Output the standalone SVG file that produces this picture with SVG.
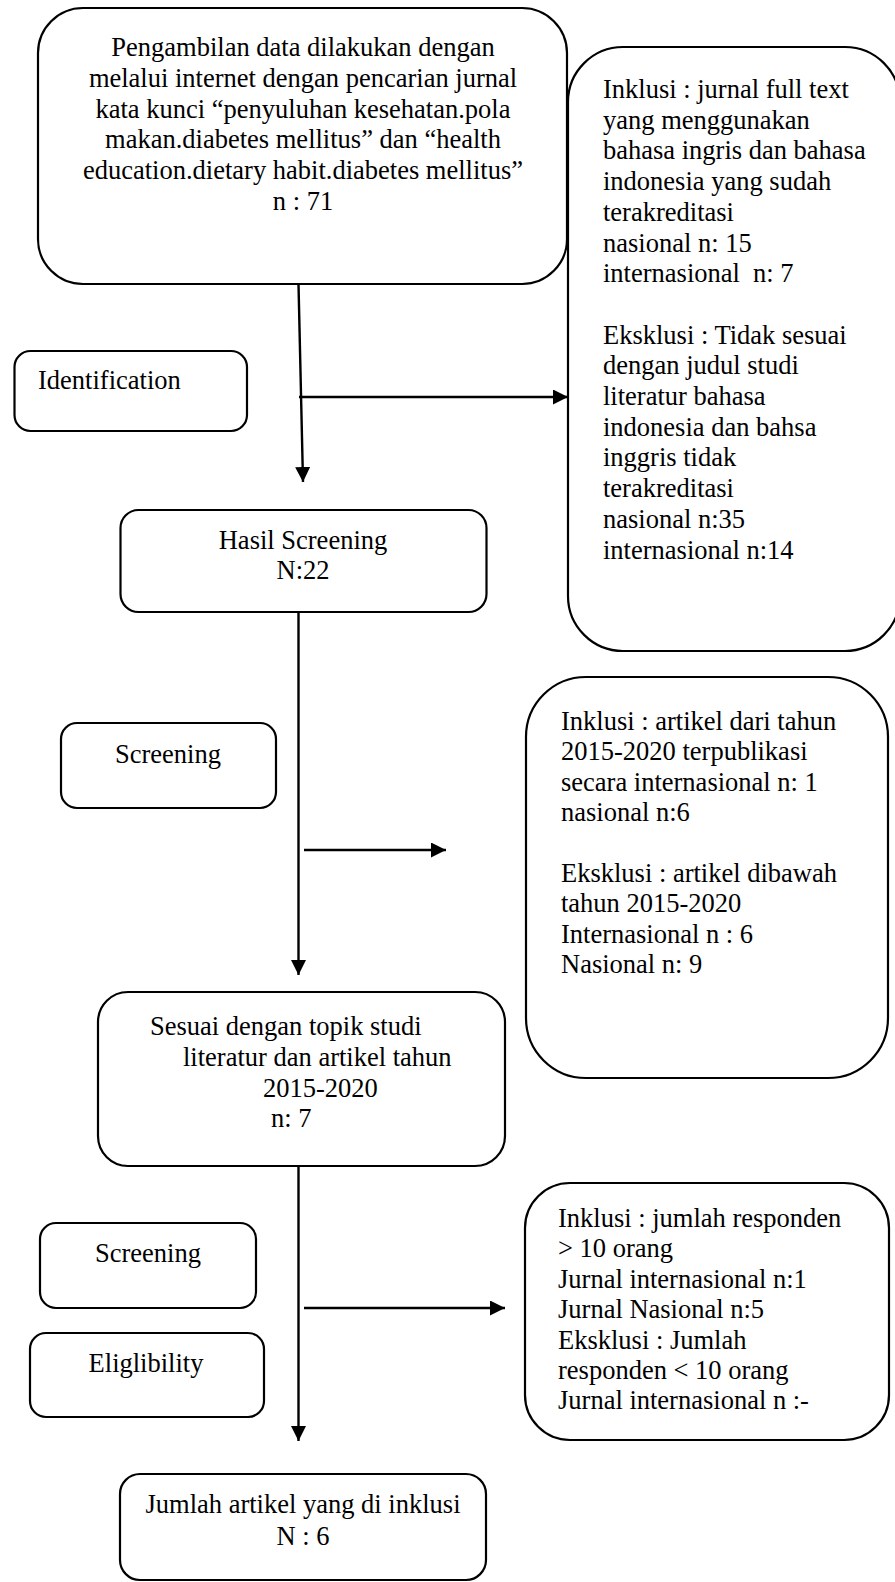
<svg xmlns="http://www.w3.org/2000/svg" width="895" height="1582" viewBox="0 0 895 1582">
<defs>
<style>
.box{fill:#fff;stroke:#000;stroke-width:2.2}
.t{font-family:"Liberation Serif","Times New Roman",serif;font-size:26.5px;fill:#000}
.c{text-anchor:middle}
.ln{stroke:#000;stroke-width:2.4;fill:none}
</style>
<marker id="ah" markerUnits="userSpaceOnUse" markerWidth="16" markerHeight="16" refX="15" refY="7.5" orient="auto"><path d="M0,0 L15,7.5 L0,15 Z" fill="#000"/></marker>
</defs>
<rect width="895" height="1582" fill="#fff"/>

<g id="connectors">
<path class="ln" d="M298.5,284 L303,482" marker-end="url(#ah)"/>
<path class="ln" d="M299,397 L568,397" marker-end="url(#ah)"/>
<path class="ln" d="M298.5,612 L298.5,975" marker-end="url(#ah)"/>
<path class="ln" d="M304,850 L446,850" marker-end="url(#ah)"/>
<path class="ln" d="M298.5,1166 L298.5,1441" marker-end="url(#ah)"/>
<path class="ln" d="M304,1308 L505,1308" marker-end="url(#ah)"/>
</g>

<g id="n-source">
<rect class="box" x="38" y="8" width="529" height="276" rx="45"/>
<text class="t c" x="303" y="56">Pengambilan data dilakukan dengan</text>
<text class="t c" x="303" y="87">melalui internet dengan pencarian jurnal</text>
<text class="t c" x="303" y="118">kata kunci “penyuluhan kesehatan.pola</text>
<text class="t c" x="303" y="148">makan.diabetes mellitus” dan “health</text>
<text class="t c" x="303" y="179">education.dietary habit.diabetes mellitus”</text>
<text class="t c" x="303" y="210">n : 71</text>
</g>

<g id="n-criteria1">
<rect class="box" x="568" y="47" width="332" height="604" rx="55"/>
<text class="t" x="603" y="98">Inklusi : jurnal full text</text>
<text class="t" x="603" y="128.7">yang menggunakan</text>
<text class="t" x="603" y="159.4">bahasa ingris dan bahasa</text>
<text class="t" x="603" y="190.1">indonesia yang sudah</text>
<text class="t" x="603" y="220.8">terakreditasi</text>
<text class="t" x="603" y="251.5">nasional n: 15</text>
<text class="t" x="603" y="282.2" xml:space="preserve">internasional  n: 7</text>
<text class="t" x="603" y="343.6">Eksklusi : Tidak sesuai</text>
<text class="t" x="603" y="374.3">dengan judul studi</text>
<text class="t" x="603" y="405">literatur bahasa</text>
<text class="t" x="603" y="435.7">indonesia dan bahsa</text>
<text class="t" x="603" y="466.4">inggris tidak</text>
<text class="t" x="603" y="497.1">terakreditasi</text>
<text class="t" x="603" y="527.8">nasional n:35</text>
<text class="t" x="603" y="558.5">internasional n:14</text>
</g>

<g id="n-identification">
<rect class="box" x="14.5" y="351" width="232.5" height="80" rx="16"/>
<text class="t" x="38" y="389">Identification</text>
</g>

<g id="n-hasil">
<rect class="box" x="120.5" y="510" width="366" height="102" rx="18"/>
<text class="t c" x="303" y="549">Hasil Screening</text>
<text class="t c" x="303" y="579">N:22</text>
</g>

<g id="n-screening1">
<rect class="box" x="61" y="723" width="215" height="85" rx="16"/>
<text class="t c" x="168" y="763">Screening</text>
</g>

<g id="n-criteria2">
<rect class="box" x="526" y="677" width="362" height="401" rx="60"/>
<text class="t" x="561" y="730">Inklusi : artikel dari tahun</text>
<text class="t" x="561" y="760.4">2015-2020 terpublikasi</text>
<text class="t" x="561" y="790.8">secara internasional n: 1</text>
<text class="t" x="561" y="821.2">nasional n:6</text>
<text class="t" x="561" y="882">Eksklusi : artikel dibawah</text>
<text class="t" x="561" y="912.4">tahun 2015-2020</text>
<text class="t" x="561" y="942.8">Internasional n : 6</text>
<text class="t" x="561" y="973.2">Nasional n: 9</text>
</g>

<g id="n-sesuai">
<rect class="box" x="98" y="992" width="407" height="174" rx="30"/>
<text class="t" x="150" y="1035">Sesuai dengan topik studi</text>
<text class="t" x="183" y="1066">literatur dan artikel tahun</text>
<text class="t" x="263" y="1097">2015-2020</text>
<text class="t" x="271" y="1127">n: 7</text>
</g>

<g id="n-screening2">
<rect class="box" x="40" y="1223" width="216" height="85" rx="16"/>
<text class="t c" x="148" y="1262">Screening</text>
</g>

<g id="n-eligibility">
<rect class="box" x="30" y="1333" width="234" height="84" rx="16"/>
<text class="t c" x="146" y="1372">Eliglibility</text>
</g>

<g id="n-criteria3">
<rect class="box" x="525" y="1183" width="364" height="257" rx="45"/>
<text class="t" x="558" y="1227">Inklusi : jumlah responden</text>
<text class="t" x="558" y="1257.4">&gt; 10 orang</text>
<text class="t" x="558" y="1287.8">Jurnal internasional n:1</text>
<text class="t" x="558" y="1318.2">Jurnal Nasional n:5</text>
<text class="t" x="558" y="1348.6">Eksklusi : Jumlah</text>
<text class="t" x="558" y="1379">responden &lt; 10 orang</text>
<text class="t" x="558" y="1409.4">Jurnal internasional n :-</text>
</g>

<g id="n-final">
<rect class="box" x="120" y="1474" width="366" height="106" rx="20"/>
<text class="t c" x="303" y="1513">Jumlah artikel yang di inklusi</text>
<text class="t c" x="303" y="1545">N : 6</text>
</g>
</svg>
